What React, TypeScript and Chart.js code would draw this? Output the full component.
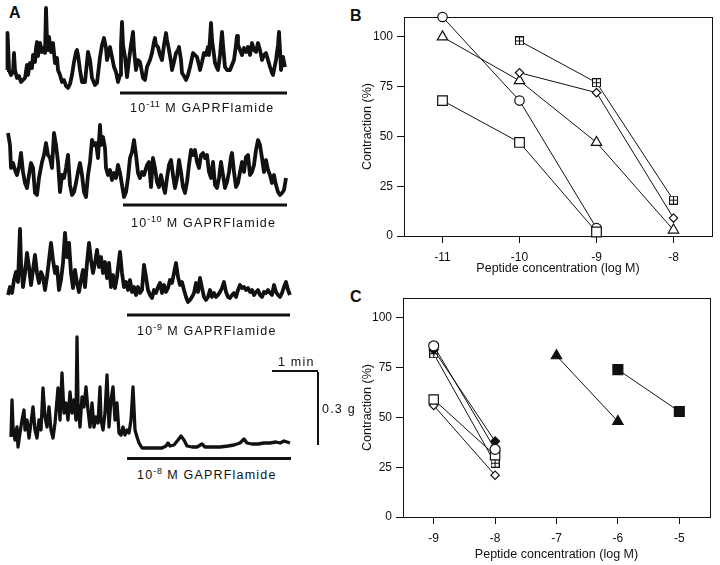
import React, { useEffect, useRef } from 'react';
import { Chart, registerables } from 'chart.js';

Chart.register(...registerables);

const FONT = '"Liberation Sans", Arial, Helvetica, sans-serif';
Chart.defaults.font.family = FONT;
Chart.defaults.color = '#111';

// ---------- Panel A: recordings (time a.u., 46 units ≈ 1 min; tension a.u., 70 units ≈ 0.3 g)
const trace1Time = [0,0.5,1.5,2,4,6,7,8,10,12,14,16,18,20,21,23,25,26,28,29,30,31,33,35,37,38,39,40,41,42,44,46,48,50,51,53,55,57,59,61,63,65,67,69,70,71,73,75,78,80,81,83,85,88,90,93,95,97,99,100,102,103,105,107,109,111,113,114,115,116,118,120,122,124,126,127,129,131,133,136,138,140,143,145,147,148,149,151,153,155,157,159,160,162,164,165,167,169,171,172,174,175,177,179,181,183,185,186,188,190,192,193,195,197,199,201,202,204,205,207,208,210,211,213,215,216,218,220,223,225,227,229,230,231,233,235,237,239,241,243,245,247,249,251,253,255,257,259,261,263,265,266,268,269,271,272,273,274,276,278];
const trace1Tension = [30,67,45,30,25,28,47,30,22,24,18,20,22,35,25,37,32,45,38,52,58,44,57,48,52,47,92,60,50,63,48,57,37,42,30,25,18,20,14,12,16,25,38,48,50,45,30,18,18,38,48,40,22,15,17,43,55,62,52,40,48,53,43,33,28,18,25,55,78,55,43,23,40,55,68,50,30,40,38,22,20,33,40,47,58,62,55,53,45,40,55,67,60,50,38,30,38,47,50,53,40,27,24,20,25,33,42,47,45,43,35,30,38,47,45,53,45,77,60,45,37,32,30,45,68,55,33,30,30,35,40,55,64,55,50,45,52,48,53,45,57,50,48,57,50,40,45,47,40,33,27,25,35,40,55,68,50,30,43,33];

const trace2Time = [1,3,4,6,8,10,12,14,16,18,20,22,24,26,28,30,32,35,37,39,41,43,45,47,49,51,53,55,57,59,61,63,65,67,69,71,73,75,77,79,81,83,85,87,89,91,93,94,96,98,99,101,103,105,107,109,111,113,115,117,119,121,123,125,127,129,131,133,135,137,140,142,144,146,148,150,152,154,156,158,160,162,164,166,168,170,172,174,176,178,180,182,184,186,188,190,192,194,196,198,200,202,204,206,208,210,212,214,216,218,220,222,224,225,227,229,231,233,235,237,239,241,243,245,247,249,251,253,255,257,259,261,263,265,267,269,271,273,275,277,279];
const trace2Tension = [82,70,47,52,45,40,48,62,43,32,27,40,52,47,22,20,37,53,60,72,60,57,47,82,70,53,23,40,37,47,60,30,20,23,32,43,52,40,23,18,40,53,75,70,72,57,90,70,78,67,47,40,45,35,42,37,50,42,30,18,23,37,57,63,75,60,42,37,43,40,50,53,28,57,47,33,28,40,30,22,37,50,55,40,27,37,55,43,28,22,33,50,65,60,65,53,47,60,62,57,60,43,37,53,30,27,37,53,40,27,33,43,58,62,43,28,32,43,53,43,58,60,40,43,50,65,75,70,57,43,55,45,40,32,40,30,23,20,22,25,37];

const trace3Time = [1,3,5,7,9,11,13,14,16,18,20,22,24,26,28,30,32,34,36,38,40,42,44,46,48,50,52,54,56,58,60,62,64,66,68,70,72,74,76,78,80,82,84,86,88,90,92,94,96,98,100,102,104,106,108,110,112,113,115,117,119,121,123,125,127,129,131,133,135,137,139,141,143,145,147,149,151,153,155,157,159,161,163,165,167,169,171,173,175,177,179,181,183,185,187,189,191,193,195,197,199,201,203,205,207,209,211,213,215,217,219,221,223,225,227,229,231,233,235,237,239,241,243,245,247,249,251,253,255,257,259,261,263,265,267,269,271,273,275,277,279,281,283];
const trace3Tension = [27,35,29,42,50,40,93,59,35,49,69,55,37,52,67,49,39,50,45,32,45,62,79,62,49,55,32,42,59,89,65,79,49,34,52,39,30,42,52,35,59,79,62,49,59,72,55,65,49,60,44,59,35,47,34,45,62,70,49,35,40,32,42,30,35,27,35,29,32,57,45,32,27,24,32,29,35,39,29,37,30,34,42,39,49,59,45,37,40,32,25,20,22,25,29,39,30,44,34,25,22,25,32,25,29,25,27,30,34,40,30,25,24,27,29,25,32,37,34,35,32,34,30,32,27,30,32,27,25,30,29,32,29,27,37,30,27,25,29,35,40,32,27];

const trace4Time = [4,5,6,8,10,11,13,15,17,18,20,22,24,26,28,30,32,34,36,38,40,42,44,46,48,50,51,53,55,57,59,61,63,65,67,69,70,71,73,75,77,79,81,83,85,87,89,91,93,94,96,98,100,102,104,106,108,110,112,114,116,118,120,122,124,126,128,130,132,135,141,148,155,159,161,163,167,171,174,177,180,185,190,195,198,205,213,221,227,233,237,240,245,251,257,263,269,273,277,280,283];
const trace4Tension = [18,55,28,15,28,8,22,35,45,25,35,17,32,48,25,17,35,25,67,38,28,48,25,17,32,55,67,35,82,42,52,35,63,42,55,35,118,52,28,58,48,68,45,28,52,28,38,32,68,35,25,42,80,28,55,68,35,52,22,20,28,20,25,22,35,68,25,18,12,7,7,7,7,9,12,9,10,15,19,15,9,8,8,11,8,8,8,9,10,12,16,12,11,11,12,12,13,12,14,13,12];

// peptide application (time a.u.) and concentration exponents
const peptideOnset = [113, 116, 120, 120];
const peptideEnd = [280, 280, 283, 284];
const peptideExponent = ['-11', '-10', '-9', '-8'];

// ---------- Panel B
const xB = [-11, -10, -9, -8];
const bCircle = [110, 68, 4, null];
const bTriangle = [100, 78, 47, 3];
const bSquare = [68, 47, 2, null];
const bDiamond = [null, 82, 72, 9];
const bBoxedPlus = [null, 98, 77, 18];
const xTicksB = [-11, -10, -9, -8];

// ---------- Panel C
const xC = [-9, -8, -7, -6, -5];
const cCircle = [86, 34, null, null, null];
const cFilledDiamond = [84, 38, null, null, null];
const cBoxedPlus = [82, 27, null, null, null];
const cSquare = [59, 31, null, null, null];
const cDiamond = [56, 21, null, null, null];
const cFilledTriangle = [null, null, 81, 48, null];
const cFilledSquare = [null, null, null, 74, 53];
const xTicksC = [-9, -8, -7, -6, -5];

const yTicks = [0, 25, 50, 75, 100];

// ---------------------------------------------------------------
function ChartCanvas(props: { left: number; top: number; width: number; height: number; make: () => any }) {
  const ref = useRef<HTMLCanvasElement>(null);
  useEffect(() => {
    const chart = new Chart(ref.current as HTMLCanvasElement, props.make());
    return () => chart.destroy();
  }, []);
  return (
    <canvas
      ref={ref}
      width={props.width}
      height={props.height}
      style={{ position: 'absolute', left: props.left, top: props.top, width: props.width, height: props.height }}
    />
  );
}

function traceConfig(time: number[], tension: number[], yMin: number, yMax: number, onset: number, end: number, barOffset: number, lineWidth: number) {
  const barPlugin = {
    id: 'peptideBar',
    afterDatasetsDraw(chart: any) {
      const { ctx, chartArea, scales } = chart;
      const x0 = scales.x.getPixelForValue(onset);
      const x1 = scales.x.getPixelForValue(end);
      ctx.save();
      ctx.fillStyle = '#111';
      ctx.fillRect(x0, chartArea.bottom - barOffset - 1.5, x1 - x0, 3);
      ctx.restore();
    },
  };
  return {
    type: 'line',
    data: {
      datasets: [
        {
          data: time.map((t, i) => ({ x: t, y: tension[i] })),
          borderColor: '#111',
          borderWidth: lineWidth,
          pointRadius: 0,
          tension: 0,
          borderJoinStyle: 'round',
          fill: false,
          clip: false,
        },
      ],
    },
    options: {
      responsive: false,
      animation: false,
      devicePixelRatio: 1,
      events: [],
      layout: { padding: 0 },
      plugins: { legend: { display: false }, tooltip: { enabled: false } },
      scales: {
        x: { type: 'linear', display: false, min: -3, max: 287 },
        y: { type: 'linear', display: false, min: yMin, max: yMax },
      },
    },
    plugins: [barPlugin],
  };
}

const framePlugin = {
  id: 'frame',
  beforeDatasetsDraw(chart: any) {
    const { ctx, chartArea: a } = chart;
    ctx.save();
    ctx.strokeStyle = '#111';
    ctx.lineWidth = 1;
    ctx.strokeRect(Math.round(a.left) + 0.5, Math.round(a.top) + 0.5, Math.round(a.right - a.left), Math.round(a.bottom - a.top));
    ctx.restore();
  },
};

function boxedPlus(size: number) {
  const c = document.createElement('canvas');
  c.width = size;
  c.height = size;
  const g = c.getContext('2d') as CanvasRenderingContext2D;
  g.fillStyle = '#fff';
  g.fillRect(0, 0, size, size);
  g.strokeStyle = '#111';
  g.lineWidth = 1.1;
  g.strokeRect(0.5, 0.5, size - 1, size - 1);
  g.beginPath();
  g.moveTo(size / 2, 0);
  g.lineTo(size / 2, size);
  g.moveTo(0, size / 2);
  g.lineTo(size, size / 2);
  g.stroke();
  return c;
}

function series(xs: number[], ys: (number | null)[], style: any, radius: number, filled: boolean) {
  return {
    data: xs.map((x, i) => ({ x, y: ys[i] })).filter((p) => p.y !== null),
    showLine: true,
    borderColor: '#111',
    borderWidth: 1,
    pointStyle: style,
    pointRadius: radius,
    pointBackgroundColor: filled ? '#111' : '#fff',
    pointBorderColor: '#111',
    pointBorderWidth: 1.2,
    clip: false,
  };
}

function doseConfig(o: {
  xMin: number; xMax: number; xTicks: number[]; padTop: number; padRight: number;
  yWidth: number; xHeight: number; titlePadBottom: number; datasets: any[];
}) {
  const tickFont = { size: 12, family: FONT };
  const titleFont = { size: 12.5, family: FONT };
  return {
    type: 'scatter',
    data: { datasets: o.datasets },
    options: {
      responsive: false,
      animation: false,
      devicePixelRatio: 1,
      events: [],
      layout: { padding: { top: o.padTop, right: o.padRight, left: 0, bottom: 0 } },
      plugins: { legend: { display: false }, tooltip: { enabled: false } },
      scales: {
        x: {
          type: 'linear',
          min: o.xMin,
          max: o.xMax,
          afterBuildTicks: (s: any) => { s.ticks = o.xTicks.map((v) => ({ value: v })); },
          afterFit: (s: any) => { s.height = o.xHeight; },
          grid: { display: true, drawOnChartArea: false, drawTicks: true, tickLength: 7, color: '#111', lineWidth: 1 },
          border: { display: false },
          ticks: { padding: 7, font: tickFont, color: '#111', maxRotation: 0, autoSkip: false, callback: (v: any) => String(v) },
          title: { display: true, text: 'Peptide concentration (log M)', font: titleFont, color: '#111', padding: { top: 0, bottom: o.titlePadBottom } },
        },
        y: {
          type: 'linear',
          min: 0,
          max: 110,
          afterBuildTicks: (s: any) => { s.ticks = yTicks.map((v) => ({ value: v })); },
          afterFit: (s: any) => { s.width = o.yWidth; },
          grid: { display: true, drawOnChartArea: false, drawTicks: true, tickLength: 7, color: '#111', lineWidth: 1 },
          border: { display: false },
          ticks: { padding: 4, font: tickFont, color: '#111', autoSkip: false, callback: (v: any) => String(v) },
          title: { display: true, text: 'Contraction (%)', font: titleFont, color: '#111', padding: { top: 0, bottom: 0 } },
        },
      },
    },
    plugins: [framePlugin],
  };
}

const labelStyle: React.CSSProperties = {
  position: 'absolute',
  fontSize: 12.5,
  lineHeight: '13px',
  letterSpacing: '1.2px',
  whiteSpace: 'nowrap',
};

function PeptideLabel(props: { left: number; top: number; exponent: string }) {
  return (
    <div style={{ ...labelStyle, left: props.left, top: props.top }}>
      10
      <span style={{ fontSize: 9, position: 'relative', top: -5, letterSpacing: '0.6px' }}>{props.exponent}</span> M GAPRFlamide
    </div>
  );
}

export default function App() {
  const traceLayout = [
    { top: 0, height: 100, yMin: 0, yMax: 100, barOffset: 7, lw: 3.8, time: trace1Time, tension: trace1Tension, labelLeft: 130, labelTop: 102 },
    { top: 115, height: 100, yMin: 0, yMax: 100, barOffset: 10, lw: 3.8, time: trace2Time, tension: trace2Tension, labelLeft: 131, labelTop: 217 },
    { top: 222, height: 100, yMin: 0, yMax: 100, barOffset: 7, lw: 3.8, time: trace3Time, tension: trace3Tension, labelLeft: 137, labelTop: 325 },
    { top: 330, height: 135, yMin: -10, yMax: 125, barOffset: 6.5, lw: 3.3, time: trace4Time, tension: trace4Tension, labelLeft: 137, labelTop: 469 },
  ];

  return (
    <div
      style={{
        position: 'absolute', left: 0, top: 0, width: 720, height: 565, overflow: 'hidden',
        background: '#fff', fontFamily: FONT, color: '#111',
      }}
    >
      <div style={{ position: 'absolute', left: 9, top: 5, fontSize: 16, lineHeight: '16px', fontWeight: 'bold' }}>A</div>
      <div style={{ position: 'absolute', left: 350, top: 8, fontSize: 16, lineHeight: '16px', fontWeight: 'bold' }}>B</div>
      <div style={{ position: 'absolute', left: 350, top: 289, fontSize: 16, lineHeight: '16px', fontWeight: 'bold' }}>C</div>

      {traceLayout.map((t, i) => (
        <ChartCanvas
          key={'tr' + i}
          left={4}
          top={t.top}
          width={290}
          height={t.height}
          make={() => traceConfig(t.time, t.tension, t.yMin, t.yMax, peptideOnset[i], peptideEnd[i], t.barOffset, t.lw)}
        />
      ))}
      {traceLayout.map((t, i) => (
        <PeptideLabel key={'lb' + i} left={t.labelLeft} top={t.labelTop} exponent={peptideExponent[i]} />
      ))}

      {/* scale bars */}
      <div style={{ ...labelStyle, left: 278, top: 356 }}>1 min</div>
      <div style={{ position: 'absolute', left: 272, top: 370, width: 46, height: 1.5, background: '#111' }} />
      <div style={{ position: 'absolute', left: 317, top: 372, width: 1.5, height: 73, background: '#111' }} />
      <div style={{ ...labelStyle, left: 322, top: 403 }}>0.3 g</div>

      <ChartCanvas
        left={360}
        top={0}
        width={360}
        height={280}
        make={() =>
          doseConfig({
            xMin: -11.5, xMax: -7.5, xTicks: xTicksB, padTop: 17, padRight: 7, yWidth: 44, xHeight: 44, titlePadBottom: 4,
            datasets: [
              series(xB, bSquare, 'rect', 6.8, false),
              series(xB, bCircle, 'circle', 4.7, false),
              series(xB, bDiamond, 'rectRot', 4.2, false),
              series(xB, bBoxedPlus, boxedPlus(9), 5, false),
              series(xB, bTriangle, 'triangle', 6, false),
            ],
          })
        }
      />
      <ChartCanvas
        left={360}
        top={280}
        width={360}
        height={285}
        make={() =>
          doseConfig({
            xMin: -9.5, xMax: -4.5, xTicks: xTicksC, padTop: 18, padRight: 10, yWidth: 43, xHeight: 48, titlePadBottom: 3,
            datasets: [
              series(xC, cCircle, 'circle', 5, false),
              series(xC, cFilledDiamond, 'rectRot', 4.5, true),
              series(xC, cSquare, 'rect', 6.6, false),
              series(xC, cBoxedPlus, boxedPlus(9), 5, false),
              series(xC, cDiamond, 'rectRot', 4.2, false),
              series(xC, cFilledTriangle, 'triangle', 6, true),
              series(xC, cFilledSquare, 'rect', 7, true),
            ],
          })
        }
      />
    </div>
  );
}
